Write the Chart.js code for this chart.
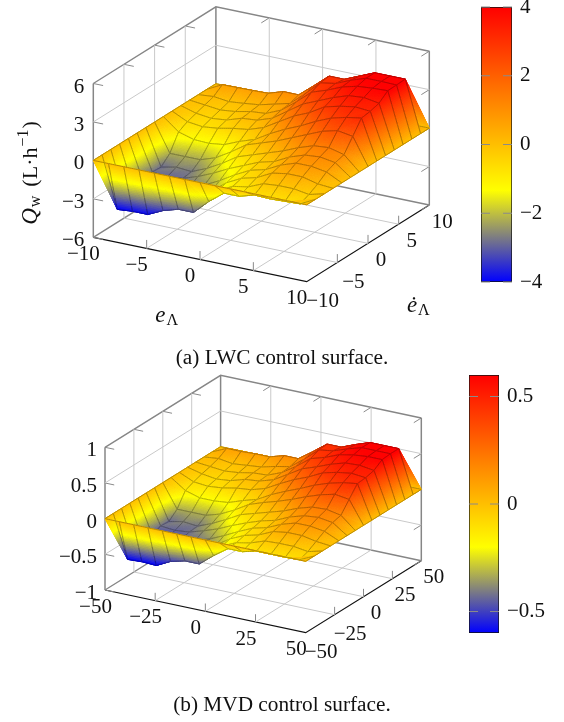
<!DOCTYPE html>
<html>
<head>
<meta charset="utf-8">
<style>
  html, body { margin: 0; padding: 0; background: #fff; }
  #page { position: relative; width: 564px; height: 722px; overflow: hidden; }
  canvas { position: absolute; }
  .caption { position: absolute; left: 0; width: 564px; text-align: center; font: 21.3px "Liberation Serif", serif; color: #111; }
</style>
</head>
<body>
<div id="page">
  <canvas id="surfaceA" width="564" height="361" style="left:0;top:0"></canvas>
  <canvas id="surfaceB" width="564" height="361" style="left:0;top:361px"></canvas>
  <canvas id="barA" width="83" height="299" style="left:481px;top:-5px"></canvas>
  <canvas id="barB" width="95" height="282" style="left:469px;top:363px"></canvas>
  <div class="caption" style="top:345px">(a) LWC control surface.</div>
  <div class="caption" style="top:692px">(b) MVD control surface.</div>
</div>
<script src="https://cdn.jsdelivr.net/npm/chart.js@4"></script>
<script>
// values, rows go from edot min to edot max, columns from e min to e max
const qwRows = [
  [0, 0, 0, 0, 0, 0, 0, 0, 0, 0, 0, 0, 0, 0, 0],
  [0, -4.0, -3.9, -3.9, -3.35, -3.0, -3.0, -1.9, -1.0, -1.0, -0.65, -0.7, -0.65, -0.6, 0],
  [0, -3.9, -3.9, -3.7, -3.3, -3.0, -2.6, -1.5, -0.9, -0.7, -0.2, -0.1, -0.1, -0.3, 0],
  [0, -3.6, -3.5, -3.4, -3.1, -2.8, -2.2, -1.3, -0.7, -0.4, 0.2, 0.4, 0.4, 0.1, 0],
  [0, -3.2, -3.2, -3.0, -2.8, -2.4, -1.8, -1.1, -0.5, -0.2, 0.4, 0.8, 0.8, 0.6, 0],
  [0, -2.8, -2.9, -2.8, -2.4, -1.9, -1.3, -0.8, -0.3, 0.0, 0.6, 1.0, 1.1, 0.9, 0],
  [0, -2.84, -2.6, -2.7, -2.2, -1.56, -0.8, -0.4, 0.0, 0.4, 0.9, 1.3, 1.4, 1.1, 0],
  [0, -2.2, -2.2, -2.2, -1.8, -1.1, -0.3, 0.1, 0.5, 1.0, 1.5, 2.0, 2.3, 2.1, 0],
  [0, -0.95, -1.3, -1.35, -1.2, -0.7, -0.3, 0.4, 1.0, 1.5, 2.1, 2.6, 2.9, 3.1, 0],
  [0, -0.58, -0.73, -0.6, -0.36, -0.2, 0.2, 0.9, 1.6, 2.1, 2.8, 3.1, 3.3, 3.2, 0],
  [0, -0.35, -0.5, -0.38, 0.0, 0.1, 0.5, 1.3, 2.1, 2.6, 3.1, 3.5, 3.6, 3.4, 0],
  [0, -0.13, -0.27, -0.15, 0.1, 0.2, 0.7, 1.6, 2.6, 3.0, 3.5, 3.8, 3.9, 3.95, 0],
  [0, 0.1, -0.05, 0.06, 0.2, 0.5, 0.8, 1.8, 2.9, 3.1, 3.6, 4.0, 4.0, 3.97, 0],
  [0, 0.6, 0.62, 0.64, 0.67, 1.05, 1.04, 2.0, 3.0, 3.0, 3.5, 4.0, 4.0, 4.0, 0],
  [0, 0, 0, 0, 0, 0, 0, 0, 0, 0, 0, 0, 0, 0, 0]
];
const qaRows = [
  [0, 0, 0, 0, 0, 0, 0, 0, 0, 0, 0, 0, 0, 0, 0],
  [0, -0.6, -0.59, -0.6, -0.5, -0.45, -0.45, -0.29, -0.15, -0.15, -0.1, -0.1, -0.1, -0.09, 0],
  [0, -0.59, -0.58, -0.56, -0.5, -0.45, -0.39, -0.23, -0.14, -0.1, -0.03, -0.02, -0.02, -0.05, 0],
  [0, -0.54, -0.53, -0.51, -0.47, -0.42, -0.33, -0.2, -0.11, -0.06, 0.03, 0.06, 0.06, 0.02, 0],
  [0, -0.48, -0.48, -0.45, -0.42, -0.36, -0.27, -0.17, -0.08, -0.03, 0.06, 0.12, 0.12, 0.09, 0],
  [0, -0.42, -0.44, -0.42, -0.36, -0.29, -0.2, -0.12, -0.05, 0.0, 0.09, 0.15, 0.17, 0.14, 0],
  [0, -0.43, -0.39, -0.41, -0.33, -0.23, -0.12, -0.06, 0.0, 0.06, 0.14, 0.2, 0.21, 0.17, 0],
  [0, -0.33, -0.33, -0.33, -0.27, -0.17, -0.05, 0.02, 0.08, 0.15, 0.23, 0.3, 0.35, 0.32, 0],
  [0, -0.14, -0.2, -0.2, -0.18, -0.11, -0.05, 0.06, 0.15, 0.23, 0.32, 0.39, 0.44, 0.47, 0],
  [0, -0.09, -0.11, -0.09, -0.05, -0.03, 0.03, 0.14, 0.24, 0.32, 0.42, 0.47, 0.5, 0.48, 0],
  [0, -0.05, -0.08, -0.06, 0.0, 0.02, 0.08, 0.2, 0.32, 0.39, 0.47, 0.53, 0.54, 0.51, 0],
  [0, -0.02, -0.04, -0.02, 0.02, 0.03, 0.11, 0.24, 0.39, 0.45, 0.53, 0.57, 0.59, 0.59, 0],
  [0, 0.02, -0.01, 0.01, 0.03, 0.08, 0.12, 0.27, 0.44, 0.47, 0.54, 0.6, 0.6, 0.6, 0],
  [0, 0.09, 0.09, 0.1, 0.1, 0.16, 0.16, 0.3, 0.45, 0.45, 0.53, 0.6, 0.6, 0.6, 0],
  [0, 0, 0, 0, 0, 0, 0, 0, 0, 0, 0, 0, 0, 0, 0]
];

const eTicksA = [-10, -5, 0, 5, 10];
const edotTicksA = [-10, -5, 0, 5, 10];
const zTicksA = [-6, -3, 0, 3, 6];
const barTicksA = [-4, -2, 0, 2, 4];

const eTicksB = [-50, -25, 0, 25, 50];
const edotTicksB = [-50, -25, 0, 25, 50];
const zTicksB = [-1, -0.5, 0, 0.5, 1];
const barTicksB = [-0.5, 0, 0.5];

const SERIF = '"Liberation Serif", serif';
const TICK_FONT = '21px ' + SERIF;

function fmt(v) {
  return String(v).replace('-', '\u2212');
}

// blue -> yellow over the first third of the range, yellow -> red over the rest
function colorAt(q, lim) {
  let t = (q + lim) / (2 * lim);
  t = Math.max(0, Math.min(1, t));
  if (t < 1 / 3) {
    const k = t * 3;
    return [255 * k, 255 * k, 255 * (1 - k)];
  }
  const k = (t - 1 / 3) * 1.5;
  return [255, 255 * (1 - k), 0];
}

function css(c, f) {
  return 'rgb(' + Math.round(c[0] * f) + ',' + Math.round(c[1] * f) + ',' + Math.round(c[2] * f) + ')';
}

// one gouraud style triangle, cut in small pieces of one colour each
function fillTriangle(ctx, a, b, c, lim) {
  const span = Math.max(Math.hypot(a.x - b.x, a.y - b.y), Math.hypot(b.x - c.x, b.y - c.y), Math.hypot(c.x - a.x, c.y - a.y));
  const N = Math.max(3, Math.ceil(span / 2));
  const at = (p, q) => {
    const r = N - p - q;
    return {
      x: (a.x * p + b.x * q + c.x * r) / N,
      y: (a.y * p + b.y * q + c.y * r) / N,
      q: (a.q * p + b.q * q + c.q * r) / N
    };
  };
  const piece = (p0, p1, p2) => {
    const col = css(colorAt((p0.q + p1.q + p2.q) / 3, lim), 1);
    ctx.fillStyle = col;
    ctx.strokeStyle = col;
    ctx.beginPath();
    ctx.moveTo(p0.x, p0.y);
    ctx.lineTo(p1.x, p1.y);
    ctx.lineTo(p2.x, p2.y);
    ctx.closePath();
    ctx.fill();
    ctx.stroke();
  };
  ctx.lineWidth = 0.5;
  for (let p = 0; p < N; p++) {
    for (let q = 0; q < N - p; q++) {
      piece(at(p, q), at(p + 1, q), at(p, q + 1));
      if (p + q < N - 1) {
        piece(at(p + 1, q), at(p + 1, q + 1), at(p, q + 1));
      }
    }
  }
}

const surfacePlugin = {
  id: 'surface',
  afterDatasetsDraw(chart, args, opts) {
    const ctx = chart.ctx;
    const xs = chart.scales.x;
    const ys = chart.scales.y;
    const ds = chart.data.datasets.find(d => d.surface);
    const n = opts.size;
    const node = (i, j) => {
      const p = ds.data[j * n + i];
      return { x: xs.getPixelForValue(p.x), y: ys.getPixelForValue(p.y), q: p.q };
    };
    const steps = 8;
    ctx.save();
    ctx.lineJoin = 'round';
    // back row first, front row last
    for (let j = n - 2; j >= 0; j--) {
      for (let i = 0; i < n - 1; i++) {
        const a = node(i, j), b = node(i + 1, j), c = node(i + 1, j + 1), d = node(i, j + 1);
        fillTriangle(ctx, a, b, c, opts.lim);
        fillTriangle(ctx, a, c, d, opts.lim);
        // mesh lines take the mapped colour, darkened
        [[a, b], [b, c], [c, d], [d, a]].forEach(edge => {
          const s = edge[0], e = edge[1];
          for (let k = 0; k < steps; k++) {
            const t0 = k / steps, t1 = (k + 1) / steps, tm = (k + 0.5) / steps;
            ctx.strokeStyle = css(colorAt(s.q + (e.q - s.q) * tm, opts.lim), 0.7);
            ctx.lineWidth = 1;
            ctx.beginPath();
            ctx.moveTo(s.x + (e.x - s.x) * t0, s.y + (e.y - s.y) * t0);
            ctx.lineTo(s.x + (e.x - s.x) * t1, s.y + (e.y - s.y) * t1);
            ctx.stroke();
          }
        });
      }
    }
    ctx.restore();
  }
};

function drawParts(ctx, x, y, parts) {
  let cx = x;
  parts.forEach(p => {
    ctx.font = p.font;
    ctx.fillText(p.t, cx, y + (p.dy || 0));
    cx += ctx.measureText(p.t).width + (p.gap || 0);
  });
}

function partsWidth(ctx, parts) {
  let w = 0;
  parts.forEach(p => {
    ctx.font = p.font;
    w += ctx.measureText(p.t).width + (p.gap || 0);
  });
  return w;
}

const labelPlugin = {
  id: 'axisText',
  afterDraw(chart, args, o) {
    const ctx = chart.ctx;
    const xs = chart.scales.x;
    const ys = chart.scales.y;
    const px = p => [xs.getPixelForValue(p.x), ys.getPixelForValue(p.y)];
    ctx.save();
    ctx.fillStyle = '#111';
    ctx.font = TICK_FONT;
    ctx.textBaseline = 'middle';
    ctx.textAlign = 'right';
    o.zTicks.forEach(v => {
      const p = px(o.project(o.e[0], o.ed[0], v));
      ctx.fillText(fmt(v), p[0] + o.zOff[0], p[1] + o.zOff[1]);
    });
    ctx.textAlign = 'center';
    o.eTicks.forEach(v => {
      const p = px(o.project(v, o.ed[0], o.z[0]));
      ctx.fillText(fmt(v), p[0] + o.eOff[0], p[1] + o.eOff[1]);
    });
    o.edotTicks.forEach(v => {
      const p = px(o.project(o.e[1], v, o.z[0]));
      const wide = v < 0 ? 3 : 0;
      ctx.fillText(fmt(v), p[0] + o.edOff[0] + wide, p[1] + o.edOff[1] + wide);
    });
    // axis titles
    ctx.textAlign = 'left';
    ctx.textBaseline = 'alphabetic';
    const big = 'italic 23px ' + SERIF;
    const sub = '16px ' + SERIF;
    const eParts = [{ t: 'e', font: big, gap: 1 }, { t: o.sub, font: sub, dy: 3 }];
    const edParts = [{ t: '\u0117', font: big, gap: 1 }, { t: o.sub, font: sub, dy: 3 }];
    drawParts(ctx, o.eTitle[0] - partsWidth(ctx, eParts) / 2, o.eTitle[1] + 5, eParts);
    drawParts(ctx, o.edTitle[0] - partsWidth(ctx, edParts) / 2, o.edTitle[1] + 5, edParts);
    const up = '22px ' + SERIF;
    const qParts = [
      { t: 'Q', font: big, gap: 1 },
      { t: o.qSub, font: sub, dy: 3, gap: 9 },
      { t: '(L\u00b7' + o.qUnit, font: up, gap: 1 },
      { t: '\u22121', font: sub, dy: -9, gap: 1 },
      { t: ')', font: up }
    ];
    ctx.translate(o.qTitle[0], o.qTitle[1]);
    ctx.rotate(-Math.PI / 2);
    drawParts(ctx, -partsWidth(ctx, qParts) / 2, 0, qParts);
    ctx.restore();
  }
};

function makeSurface(id, yRange, rows, lim, cfg) {
  const e = cfg.e, ed = cfg.ed, z = cfg.z;
  const project = (a, b, c) => {
    const u = (a - e[0]) / (e[1] - e[0]);
    const v = (b - ed[0]) / (ed[1] - ed[0]);
    const w = (c - z[0]) / (z[1] - z[0]);
    return {
      x: cfg.origin[0] + cfg.eVec[0] * u + cfg.edVec[0] * v + cfg.zVec[0] * w,
      y: cfg.origin[1] + cfg.eVec[1] * u + cfg.edVec[1] * v + cfg.zVec[1] * w
    };
  };
  const line = (pts, color, width) => ({
    type: 'scatter', data: pts, showLine: true, borderColor: color, borderWidth: width,
    pointRadius: 0, fill: false, tension: 0, clip: false
  });
  const sets = [];
  const innerE = cfg.eTicks.slice(1, -1), innerEd = cfg.edotTicks.slice(1, -1), innerZ = cfg.zTicks.slice(1, -1);
  const LIGHT = '#c9c9c9', BOX = '#868686', TICK = '#8a8a8a';
  // grid on floor and the two back walls
  innerE.forEach(v => {
    sets.push(line([project(v, ed[0], z[0]), project(v, ed[1], z[0]), project(v, ed[1], z[1])], LIGHT, 1));
  });
  innerEd.forEach(v => {
    sets.push(line([project(e[1], v, z[0]), project(e[0], v, z[0]), project(e[0], v, z[1])], LIGHT, 1));
  });
  innerZ.forEach(v => {
    sets.push(line([project(e[0], ed[0], v), project(e[0], ed[1], v), project(e[1], ed[1], v)], LIGHT, 1));
  });
  // box
  sets.push(line([project(e[0], ed[0], z[0]), project(e[0], ed[1], z[0]), project(e[1], ed[1], z[0])], BOX, 1.4));
  sets.push(line([project(e[0], ed[0], z[1]), project(e[0], ed[1], z[1]), project(e[1], ed[1], z[1])], BOX, 1.4));
  sets.push(line([project(e[0], ed[0], z[0]), project(e[0], ed[0], z[1])], BOX, 1.5));
  sets.push(line([project(e[0], ed[1], z[0]), project(e[0], ed[1], z[1])], BOX, 1.5));
  sets.push(line([project(e[1], ed[1], z[0]), project(e[1], ed[1], z[1])], BOX, 1.5));
  // short tick marks, run along the neighbouring axis direction
  const dE = (e[1] - e[0]) * 0.046, dEd = (ed[1] - ed[0]) * 0.065;
  innerEd.forEach(v => {
    sets.push(line([project(e[0], v, z[1]), project(e[0] + dE, v, z[1])], TICK, 1));
  });
  innerE.forEach(v => {
    sets.push(line([project(v, ed[1], z[1]), project(v, ed[1] - dEd, z[1])], TICK, 1));
  });
  cfg.zTicks.forEach(v => {
    sets.push(line([project(e[0], ed[0], v), project(e[0] + dE, ed[0], v)], TICK, 1));
    sets.push(line([project(e[1], ed[1], v), project(e[1], ed[1] - dEd, v)], TICK, 1));
  });
  const dZ = (z[1] - z[0]) * 0.055;
  innerE.forEach(v => {
    sets.push(line([project(v, ed[0], z[0]), project(v, ed[0], z[0] + dZ)], TICK, 1));
  });
  innerEd.forEach(v => {
    sets.push(line([project(e[1], v, z[0]), project(e[1], v, z[0] + dZ)], TICK, 1));
  });
  // the two front axes
  sets.push(line([project(e[0], ed[0], z[0]), project(e[1], ed[0], z[0]), project(e[1], ed[1], z[0])], '#111', 1.2));

  const n = rows.length;
  const nodes = [];
  rows.forEach((row, j) => {
    row.forEach((q, i) => {
      const p = project(e[0] + (e[1] - e[0]) * i / (n - 1), ed[0] + (ed[1] - ed[0]) * j / (n - 1), q);
      nodes.push({ x: p.x, y: p.y, q: q });
    });
  });
  sets.push({ type: 'scatter', surface: true, data: nodes, pointRadius: 0, showLine: false });

  return new Chart(document.getElementById(id), {
    type: 'scatter',
    data: { datasets: sets },
    options: {
      responsive: false,
      animation: false,
      events: [],
      layout: { padding: 0 },
      scales: {
        x: { type: 'linear', display: false, min: 0, max: 564 },
        y: { type: 'linear', display: false, min: yRange[0], max: yRange[1], reverse: true }
      },
      plugins: {
        legend: { display: false },
        tooltip: { enabled: false },
        surface: { size: n, lim: lim },
        axisText: Object.assign({ project: project }, cfg)
      }
    },
    plugins: [surfacePlugin, labelPlugin]
  });
}

function makeBar(id, ticks, lim, pad) {
  return new Chart(document.getElementById(id), {
    type: 'bar',
    data: {
      labels: ['q'],
      datasets: [{
        data: [[-lim, lim]],
        borderColor: '#111',
        borderWidth: 1,
        borderSkipped: false,
        categoryPercentage: 1,
        barPercentage: 1,
        backgroundColor(c) {
          const chart = c.chart;
          if (!chart.chartArea) return '#fff';
          const y = chart.scales.y;
          const g = chart.ctx.createLinearGradient(0, y.getPixelForValue(-lim), 0, y.getPixelForValue(lim));
          g.addColorStop(0, 'rgb(0,0,255)');
          g.addColorStop(1 / 3, 'rgb(255,255,0)');
          g.addColorStop(1, 'rgb(255,0,0)');
          return g;
        }
      }]
    },
    options: {
      responsive: false,
      animation: false,
      events: [],
      layout: { autoPadding: false, padding: { top: pad, bottom: pad } },
      scales: {
        x: { display: false },
        y: {
          position: 'right',
          min: -lim,
          max: lim,
          afterBuildTicks(s) { s.ticks = ticks.map(v => ({ value: v })); },
          afterFit(s) {
            s.width = id === 'barA' ? 52 : 65;
            s.paddingTop = 0;
            s.paddingBottom = 0;
          },
          border: { display: false },
          grid: { display: false, drawTicks: false },
          ticks: {
            color: '#111',
            padding: 8,
            font: { family: '"Liberation Serif"', size: 21 },
            callback: v => fmt(v)
          }
        }
      },
      plugins: { legend: { display: false }, tooltip: { enabled: false } }
    },
    plugins: [{
      id: 'barTicks',
      afterDraw(chart) {
        const a = chart.chartArea, y = chart.scales.y, ctx = chart.ctx;
        ctx.save();
        ctx.strokeStyle = '#8a8a8a';
        ctx.lineWidth = 1;
        ticks.forEach(v => {
          const p = y.getPixelForValue(v);
          ctx.beginPath();
          ctx.moveTo(a.left, p);
          ctx.lineTo(a.left + 9, p);
          ctx.moveTo(a.right - 9, p);
          ctx.lineTo(a.right, p);
          ctx.stroke();
        });
        ctx.restore();
      }
    }]
  });
}

makeSurface('surfaceA', [0, 361], qwRows, 4, {
  e: [-10, 10], ed: [-10, 10], z: [-6, 6],
  eTicks: eTicksA, edotTicks: edotTicksA, zTicks: zTicksA,
  origin: [93.3, 237.3], eVec: [213.4, 44.4], edVec: [122.6, -76.7], zVec: [0, -153.8],
  zOff: [-9, 3.5], eOff: [-10, 17], edOff: [13, 17],
  sub: '\u039b', qSub: 'w', qUnit: 'h',
  eTitle: [166.7, 316.7], edTitle: [418.3, 306.7], qTitle: [37, 173]
});
makeSurface('surfaceB', [361, 722], qaRows, 0.6, {
  e: [-50, 50], ed: [-50, 50], z: [-1, 1],
  eTicks: eTicksB, edotTicks: edotTicksB, zTicks: zTicksB,
  origin: [105, 590], eVec: [200.7, 42.7], edVec: [115.6, -72], zVec: [0, -142.7],
  zOff: [-8, 3.5], eOff: [-9.5, 17], edOff: [12.5, 16.5],
  sub: 'M', qSub: 'a', qUnit: 'min',
  eTitle: [174, 666], edTitle: [410.7, 658.3], qTitle: [36, 532]
});
makeBar('barA', barTicksA, 4, 12);
makeBar('barB', barTicksB, 0.6, 12);
</script>
</body>
</html>
